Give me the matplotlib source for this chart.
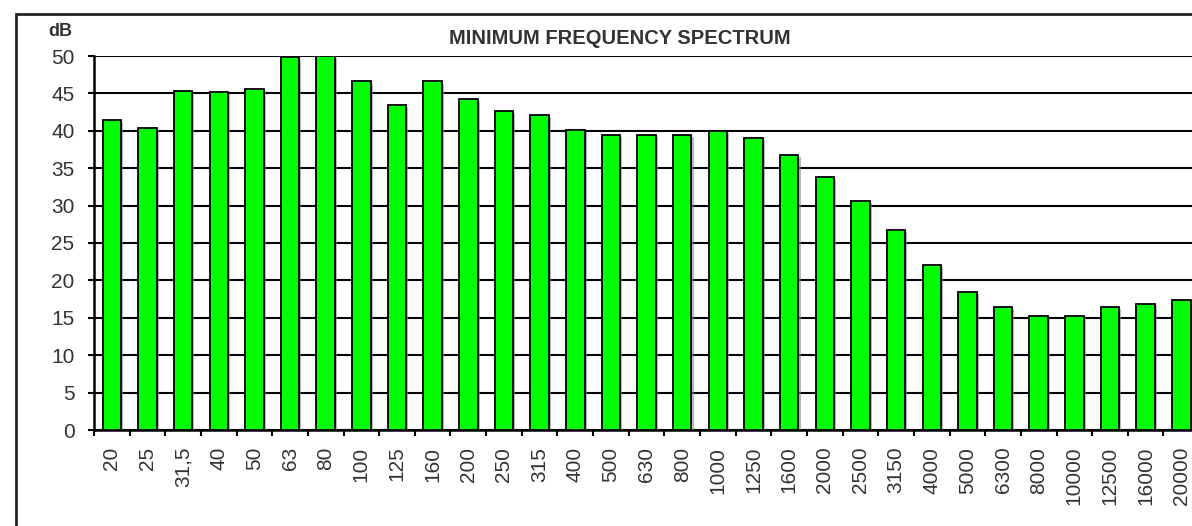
import matplotlib
matplotlib.use("Agg")
import matplotlib.pyplot as plt
import matplotlib.patheffects as pe
from matplotlib.patches import Rectangle
import numpy as np

categories = ["20", "25", "31,5", "40", "50", "63", "80", "100", "125", "160",
              "200", "250", "315", "400", "500", "630", "800", "1000", "1250", "1600",
              "2000", "2500", "3150", "4000", "5000", "6300", "8000", "10000", "12500", "16000",
              "20000"]
values = [41.4, 40.4, 45.3, 45.2, 45.6, 49.8, 50.0, 46.6, 43.5, 46.6,
          44.2, 42.6, 42.1, 40.1, 39.4, 39.5, 39.4, 40.0, 39.1, 36.8,
          33.8, 30.6, 26.8, 22.1, 18.4, 16.4, 15.3, 15.3, 16.4, 16.8,
          17.4]
y_ticks = [0, 5, 10, 15, 20, 25, 30, 35, 40, 45, 50]
title = "MINIMUM FREQUENCY SPECTRUM"
y_unit = "dB"

W, H = 1192, 526
fig = plt.figure(figsize=(W / 100, H / 100), dpi=100)
plt.rcParams['font.family'] = ['Liberation Sans', 'DejaVu Sans']

# outer frame (extends past right/bottom edges)
fig.patches.append(Rectangle((16 / W, -0.1), 1.2, 1 - 14 / H + 0.1, transform=fig.transFigure,
                             fill=False, edgecolor='#222222', linewidth=2, zorder=0))

n = len(categories)
cat_w = 35.65
left_px, top_px, bot_px = 94, 56, 430
ax = fig.add_axes([left_px / W, 1 - bot_px / H, n * cat_w / W, (bot_px - top_px) / H])
ax.set_facecolor('none')

x = np.arange(n)
bars = ax.bar(x, values, width=0.52, color='#00FF00', edgecolor='black', linewidth=1.3, zorder=3)
for b in bars:
    b.set_path_effects([pe.SimplePatchShadow(offset=(1.5, -1.5), shadow_rgbFace='#888888', alpha=0.6),
                        pe.Normal()])

ax.set_xlim(-0.5, n - 0.5)
ax.set_ylim(0, 50)
ax.set_yticks(y_ticks)
ax.set_yticklabels([str(v) for v in y_ticks])
ax.yaxis.grid(True, color='black', linewidth=1.5, zorder=1)
ax.set_axisbelow(True)

# x ticks at category boundaries, labels at centers
ax.set_xticks(np.arange(n + 1) - 0.5)
ax.set_xticklabels([])
ax.set_xticks(x, minor=True)
ax.set_xticklabels(categories, minor=True, rotation=90, fontsize=15, color='#333333')
ax.tick_params(axis='x', which='major', length=4, width=1.5, color='black', direction='out')
ax.tick_params(axis='x', which='minor', length=0, pad=12)
ax.tick_params(axis='y', length=4, width=1.5, pad=10, labelsize=15, labelcolor='#333333')

for s in ['top', 'right']:
    ax.spines[s].set_visible(False)
ax.spines['left'].set_linewidth(1.8)
ax.spines['bottom'].set_linewidth(1.8)

fig.text(620 / W, 1 - 38 / H, title, ha='center', va='center', fontsize=14.5,
         fontweight='bold', color='#333333')
fig.text(60 / W, 1 - 32 / H, y_unit, ha='center', va='center', fontsize=13,
         fontweight='bold', color='#333333')

fig.savefig("out.png", dpi=100)
